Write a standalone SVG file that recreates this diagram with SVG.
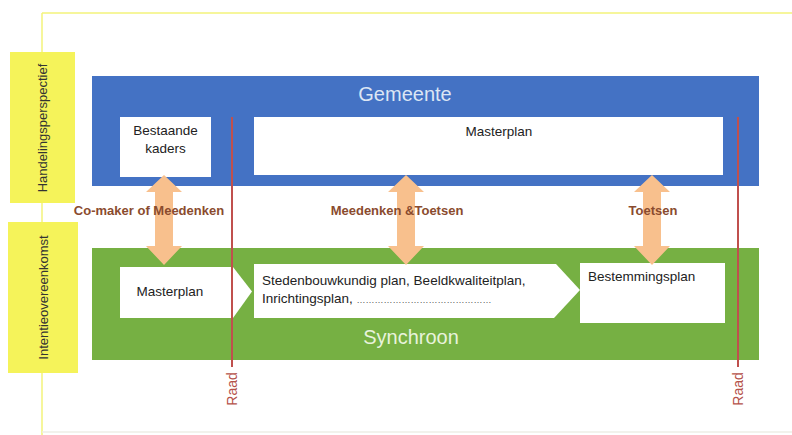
<svg xmlns="http://www.w3.org/2000/svg" width="792" height="435" viewBox="0 0 792 435">
<style>
.side{fill:#f5f35a;}
.sidet{font-family:"Liberation Sans",Arial,sans-serif;font-size:13px;fill:#333;}
.box{fill:#ffffff;}
.t{font-family:"Liberation Sans",Arial,sans-serif;font-size:13.5px;fill:#222;}
.big{font-family:"Liberation Sans",Arial,sans-serif;font-size:20px;}
.conn{font-family:"Liberation Sans",Arial,sans-serif;font-size:13px;font-weight:bold;fill:#8a4b2e;}
.raad{stroke:#c0504d;stroke-width:2;}
.raadt{font-family:"Liberation Sans",Arial,sans-serif;font-size:14px;fill:#b5524a;}
.arr{fill:#f8c08d;}
</style>
<rect x="0" y="0" width="792" height="435" fill="#ffffff"/>
<g id="frame">
<line x1="42" y1="13" x2="792" y2="13" stroke="#f3f37a" stroke-width="1.5"/>
<line x1="42" y1="13" x2="42" y2="435" stroke="#f3f37a" stroke-width="1.5"/>
<line x1="42" y1="432" x2="792" y2="432" stroke="#eeeee6" stroke-width="1.5"/>
</g>
<g id="side-handelingsperspectief">
<rect class="side" x="10" y="52" width="65" height="151"/>
<text class="sidet" transform="translate(47,128) rotate(-90)" text-anchor="middle">Handelingsperspectief</text>
</g>
<g id="side-intentieovereenkomst">
<rect class="side" x="8" y="222" width="70" height="151"/>
<text class="sidet" transform="translate(48,297.5) rotate(-90)" text-anchor="middle">Intentieovereenkomst</text>
</g>
<g id="gemeente">
<rect x="92" y="76" width="667" height="110" fill="#4472c4"/>
<text class="big" x="405" y="101" text-anchor="middle" fill="#dce6f4">Gemeente</text>
</g>
<g id="bestaande-kaders">
<rect class="box" x="120" y="117" width="91" height="60"/>
<text class="t" x="165.5" y="135" text-anchor="middle">Bestaande</text>
<text class="t" x="165.5" y="153" text-anchor="middle">kaders</text>
</g>
<g id="masterplan-gemeente">
<rect class="box" x="254" y="117" width="469" height="58"/>
<text class="t" x="499" y="136" text-anchor="middle" font-size="15">Masterplan</text>
</g>
<g id="synchroon">
<rect x="92" y="248" width="667" height="112" fill="#76b043"/>
<text class="big" x="411" y="344" text-anchor="middle" fill="#e8f3dc">Synchroon</text>
</g>
<g id="masterplan-synchroon">
<polygon class="box" points="120,267 233,267 252,291.5 233,318 120,318"/>
<text class="t" x="170" y="296" text-anchor="middle">Masterplan</text>
</g>
<g id="stedenbouwkundig">
<polygon class="box" points="254,264 556,264 580,290 554,318 254,318"/>
<text class="t" x="262" y="285">Stedenbouwkundig plan, Beeldkwaliteitplan,</text>
<text class="t" x="262" y="303">Inrichtingsplan, <tspan font-size="9" fill="#555">………………………………………</tspan></text>
</g>
<g id="bestemmingsplan">
<rect class="box" x="580" y="263" width="145" height="60"/>
<text class="t" x="588" y="281">Bestemmingsplan</text>
</g>
<g id="connectors">
<polygon class="arr" points="164,175 182,192 173,192 173,246 182,246 164,265 146,246 155,246 155,192 146,192"/>
<polygon class="arr" points="406,175 424,192 415,192 415,246 424,246 406,265 388,246 397,246 397,192 388,192"/>
<polygon class="arr" points="652,175 670,192 661,192 661,246 670,246 652,265 634,246 643,246 643,192 634,192"/>
<text class="conn" x="149" y="215" text-anchor="middle">Co-maker of Meedenken</text>
<text class="conn" x="397" y="215" text-anchor="middle">Meedenken &amp;Toetsen</text>
<text class="conn" x="653" y="215" text-anchor="middle">Toetsen</text>
<line class="raad" x1="232" y1="117" x2="232" y2="367"/>
<line class="raad" x1="738" y1="117" x2="738" y2="367"/>
<text class="raadt" transform="translate(237,389) rotate(-90)" text-anchor="middle">Raad</text>
<text class="raadt" transform="translate(743,389) rotate(-90)" text-anchor="middle">Raad</text>
</g>
</svg>
